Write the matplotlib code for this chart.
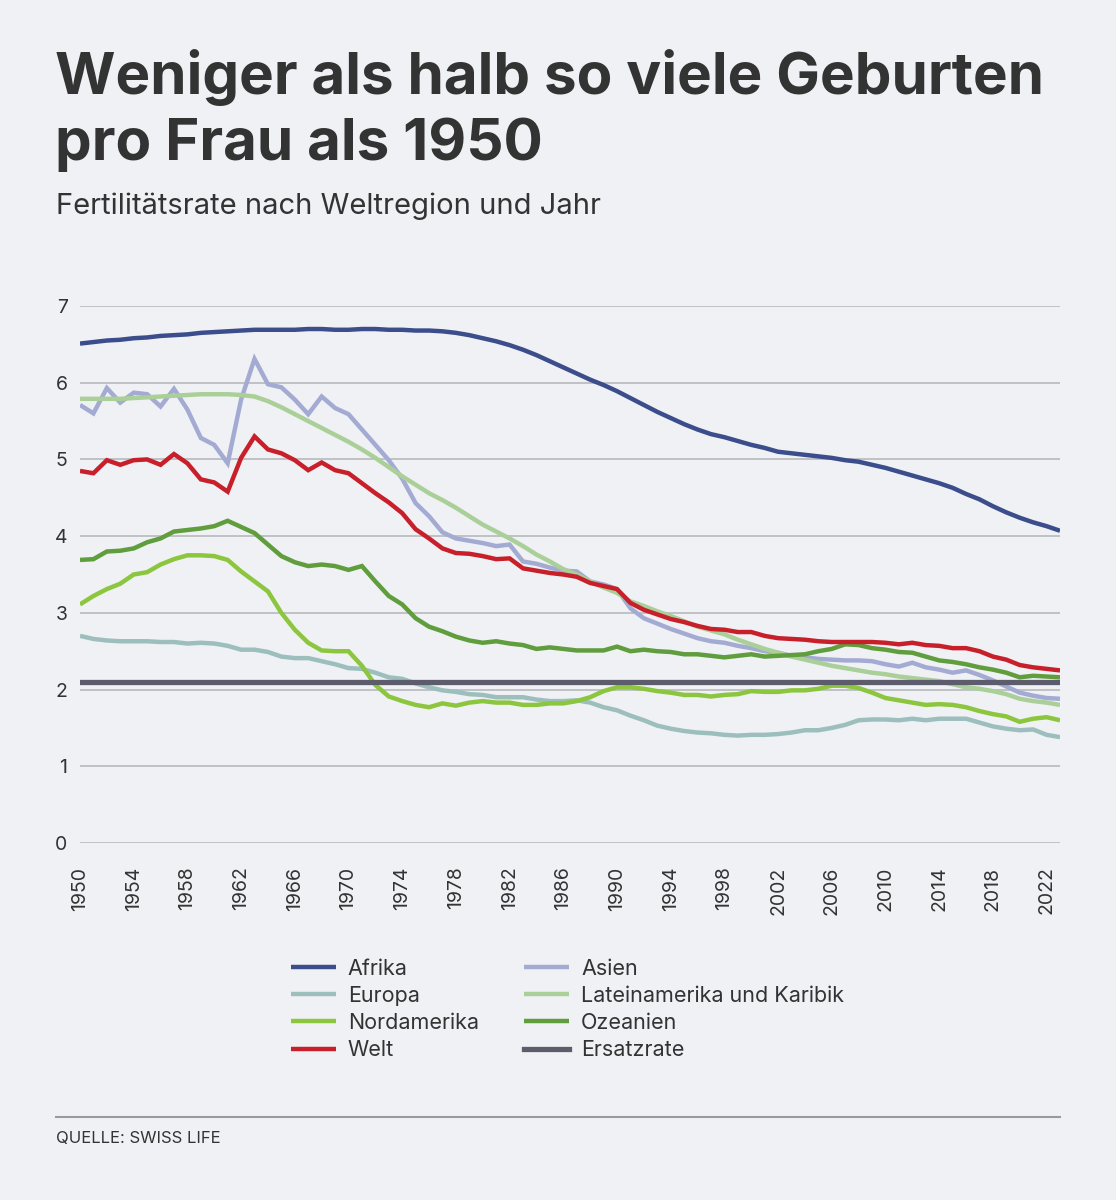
import numpy as np
import matplotlib
matplotlib.use('Agg')
import matplotlib.pyplot as plt
from matplotlib.lines import Line2D

plt.rcParams['font.family'] = ['Inter', 'DejaVu Sans']

# Data
years = np.arange(1950, 2024)

afrika = [6.51, 6.53, 6.55, 6.56, 6.58, 6.59, 6.61, 6.62, 6.63, 6.65,
          6.66, 6.67, 6.68, 6.69, 6.69, 6.69, 6.69, 6.70, 6.70, 6.69,
          6.69, 6.70, 6.70, 6.69, 6.69, 6.68, 6.68, 6.67, 6.65, 6.62,
          6.58, 6.54, 6.49, 6.43, 6.36, 6.28, 6.20, 6.12, 6.04, 5.97,
          5.89, 5.80, 5.71, 5.62, 5.54, 5.46, 5.39, 5.33, 5.29, 5.24,
          5.19, 5.15, 5.10, 5.08, 5.06, 5.04, 5.02, 4.99, 4.97, 4.93,
          4.89, 4.84, 4.79, 4.74, 4.69, 4.63, 4.55, 4.48, 4.39, 4.31,
          4.24, 4.18, 4.13, 4.07]
asien = [5.71, 5.60, 5.93, 5.74, 5.87, 5.85, 5.69, 5.92, 5.65, 5.28,
         5.19, 4.95, 5.78, 6.31, 5.98, 5.94, 5.78, 5.59, 5.82, 5.67,
         5.59, 5.39, 5.19, 4.99, 4.75, 4.43, 4.26, 4.05, 3.97, 3.94,
         3.91, 3.87, 3.89, 3.67, 3.64, 3.59, 3.55, 3.54, 3.41, 3.37,
         3.31, 3.06, 2.93, 2.86, 2.79, 2.73, 2.67, 2.63, 2.61, 2.57,
         2.54, 2.50, 2.48, 2.44, 2.42, 2.40, 2.39, 2.38, 2.38, 2.37,
         2.33, 2.30, 2.35, 2.29, 2.26, 2.22, 2.25, 2.19, 2.12, 2.04,
         1.96, 1.92, 1.89, 1.88]
europa = [2.70, 2.66, 2.64, 2.63, 2.63, 2.63, 2.62, 2.62, 2.60, 2.61,
          2.60, 2.57, 2.52, 2.52, 2.49, 2.43, 2.41, 2.41, 2.37, 2.33,
          2.28, 2.27, 2.22, 2.16, 2.14, 2.08, 2.03, 1.99, 1.97, 1.94,
          1.93, 1.90, 1.90, 1.90, 1.87, 1.85, 1.85, 1.86, 1.83, 1.77,
          1.73, 1.66, 1.60, 1.53, 1.49, 1.46, 1.44, 1.43, 1.41, 1.40,
          1.41, 1.41, 1.42, 1.44, 1.47, 1.47, 1.50, 1.54, 1.60, 1.61,
          1.61, 1.60, 1.62, 1.60, 1.62, 1.62, 1.62, 1.57, 1.52, 1.49,
          1.47, 1.48, 1.41, 1.38]
latein = [5.79, 5.79, 5.79, 5.79, 5.80, 5.81, 5.82, 5.83, 5.84, 5.85,
          5.85, 5.85, 5.84, 5.82, 5.76, 5.68, 5.59, 5.50, 5.41, 5.32,
          5.23, 5.13, 5.02, 4.90, 4.78, 4.67, 4.56, 4.47, 4.37, 4.26,
          4.15, 4.06, 3.97, 3.87, 3.76, 3.67, 3.57, 3.50, 3.41, 3.33,
          3.26, 3.15, 3.09, 3.02, 2.96, 2.89, 2.82, 2.77, 2.72, 2.65,
          2.59, 2.53, 2.48, 2.43, 2.39, 2.35, 2.31, 2.28, 2.25, 2.22,
          2.20, 2.17, 2.15, 2.13, 2.11, 2.07, 2.03, 2.01, 1.98, 1.94,
          1.88, 1.85, 1.83, 1.80]
nordam = [3.11, 3.22, 3.31, 3.38, 3.50, 3.53, 3.63, 3.70, 3.75, 3.75,
          3.74, 3.69, 3.54, 3.41, 3.28, 3.00, 2.78, 2.61, 2.51, 2.50,
          2.50, 2.31, 2.06, 1.91, 1.85, 1.80, 1.77, 1.82, 1.79, 1.83,
          1.85, 1.83, 1.83, 1.80, 1.80, 1.82, 1.82, 1.85, 1.90, 1.98,
          2.03, 2.03, 2.01, 1.98, 1.96, 1.93, 1.93, 1.91, 1.93, 1.94,
          1.98, 1.97, 1.97, 1.99, 1.99, 2.01, 2.05, 2.05, 2.02, 1.96,
          1.89, 1.86, 1.83, 1.80, 1.81, 1.80, 1.77, 1.72, 1.68, 1.65,
          1.58, 1.62, 1.64, 1.60]
ozeanien = [3.69, 3.70, 3.80, 3.81, 3.84, 3.92, 3.97, 4.06, 4.08, 4.10,
            4.13, 4.20, 4.12, 4.04, 3.89, 3.74, 3.66, 3.61, 3.63, 3.61,
            3.56, 3.61, 3.41, 3.22, 3.11, 2.93, 2.82, 2.76, 2.69, 2.64,
            2.61, 2.63, 2.60, 2.58, 2.53, 2.55, 2.53, 2.51, 2.51, 2.51,
            2.56, 2.50, 2.52, 2.50, 2.49, 2.46, 2.46, 2.44, 2.42, 2.44,
            2.46, 2.43, 2.44, 2.45, 2.46, 2.50, 2.53, 2.59, 2.58, 2.54,
            2.52, 2.49, 2.48, 2.43, 2.38, 2.36, 2.33, 2.29, 2.26, 2.22,
            2.16, 2.18, 2.17, 2.16]
welt = [4.85, 4.82, 4.99, 4.93, 4.99, 5.00, 4.93, 5.07, 4.95, 4.74,
        4.70, 4.58, 5.02, 5.30, 5.13, 5.08, 4.99, 4.86, 4.96, 4.86,
        4.82, 4.69, 4.56, 4.44, 4.30, 4.09, 3.97, 3.84, 3.78, 3.77,
        3.74, 3.70, 3.71, 3.58, 3.55, 3.52, 3.50, 3.47, 3.39, 3.35,
        3.31, 3.13, 3.04, 2.98, 2.92, 2.88, 2.83, 2.79, 2.78, 2.75,
        2.75, 2.70, 2.67, 2.66, 2.65, 2.63, 2.62, 2.62, 2.62, 2.62,
        2.61, 2.59, 2.61, 2.58, 2.57, 2.54, 2.54, 2.50, 2.43, 2.39,
        2.32, 2.29, 2.27, 2.25]
ersatzrate = 2.1

xticks = np.arange(1950, 2023, 4)
yticks = [0, 1, 2, 3, 4, 5, 6, 7]

# Colours
bg = '#f0f1f5'
txt = '#333333'
series = [
    ('Afrika', afrika, '#3b4d8b'),
    ('Asien', asien, '#a4abd3'),
    ('Europa', europa, '#9cbfbe'),
    ('Lateinamerika und Karibik', latein, '#aacf98'),
    ('Nordamerika', nordam, '#8cc63f'),
    ('Ozeanien', ozeanien, '#5f9d3d'),
    ('Welt', welt, '#c8202b'),
]

fig = plt.figure(figsize=(11.16, 12), dpi=100, facecolor=bg)

# Titles
fig.text(55/1116, 1-78/1200, 'Weniger als halb so viele Geburten', fontsize=42,
         fontweight='bold', color=txt, va='center', ha='left')
fig.text(55/1116, 1-145/1200, 'pro Frau als 1950', fontsize=42,
         fontweight='bold', color=txt, va='center', ha='left')
fig.text(56/1116, 1-206/1200, 'Fertilitätsrate nach Weltregion und Jahr',
         fontsize=21, color=txt, va='center', ha='left')

# Plot
ax = fig.add_axes([80/1116, 1-843/1200, 980/1116, (843-306)/1200])
ax.set_facecolor(bg)
handles = {}
for name, vals, col in series:
    ln, = ax.plot(years, vals, color=col, lw=3.2, solid_capstyle='butt',
                  solid_joinstyle='miter', label=name)
    handles[name] = ln
ln = ax.axhline(ersatzrate, color='#5d5c6c', lw=3.8, label='Ersatzrate')
handles['Ersatzrate'] = ln

ax.set_xlim(1950, 2023)
ax.set_ylim(0, 7)
ax.set_yticks(yticks)
ax.set_xticks(xticks)
ax.set_xticklabels([str(y) for y in xticks], rotation=90)
ax.grid(axis='y', color='#bdbdc2', lw=1.3)
ax.set_axisbelow(True)
for s in ax.spines.values():
    s.set_visible(False)
ax.tick_params(axis='both', length=0, labelsize=14, colors=txt)
ax.tick_params(axis='x', pad=17)
ax.tick_params(axis='y', pad=9)

# Legend (row-wise order as in reference)
order = ['Afrika', 'Europa', 'Nordamerika', 'Welt',
         'Asien', 'Lateinamerika und Karibik', 'Ozeanien', 'Ersatzrate']
fig.legend([handles[k] for k in order], order, ncol=2, frameon=False,
           loc='upper left', bbox_to_anchor=(280/1116, 1-948/1200),
           fontsize=15.5, handlelength=2.1, handletextpad=0.55,
           columnspacing=2.1, labelspacing=0.33, borderpad=0,
           labelcolor=txt)

# Footer
fig.add_artist(Line2D([56/1116, 1060/1116], [1-1117/1200, 1-1117/1200],
                      color='#9a9a9a', lw=1.5, transform=fig.transFigure))
fig.text(56/1116, 1-1138/1200, 'QUELLE: SWISS LIFE', fontsize=12,
         color=txt, va='center', ha='left')

plt.savefig('out.png', dpi=100, facecolor=bg)
